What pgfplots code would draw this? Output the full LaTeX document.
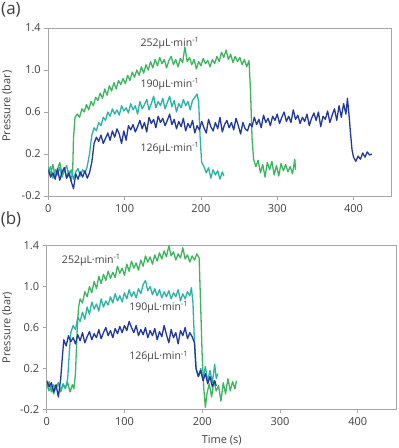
\documentclass[border=0pt]{standalone}
\usepackage{fontspec}
\setmainfont{Open Sans}
\usepackage{pgfplots}
\pgfplotsset{compat=1.18}
\definecolor{cb}{HTML}{22399A}
\definecolor{ct}{HTML}{2DB3A4}
\definecolor{cg}{HTML}{3DB560}
\definecolor{txt}{HTML}{404040}
\definecolor{axc}{HTML}{A6A6A6}
\tikzset{lab/.style={font=\fontsize{10.5}{12}\selectfont, text=txt, inner sep=0pt}}
\pgfplotsset{
  myax/.style={
    scale only axis,
    xmin=0, xmax=450, ymin=-0.2, ymax=1.4,
    xtick={0,100,200,300,400},
    ytick={-0.2,0.2,0.6,1.0,1.4},
    yticklabel style={/pgf/number format/.cd, fixed, fixed zerofill, precision=1},
    /pgf/number format/assume math mode=true,
    tick align=outside, tick pos=left,
    axis line style={axc, line width=0.8pt},
    major tick style={axc, line width=0.8pt},
    major tick length=4pt,
    tick label style={font=\fontsize{11}{13}\selectfont, text=txt},
    every axis plot/.append style={line width=1.3pt, line join=round, mark=none},
    ylabel={Pressure (bar)},
    xticklabel style={yshift=-1pt},
  },
}
\begin{document}
\begin{tikzpicture}
\path[use as bounding box] (0,0) rectangle (399pt,-448pt);
\node[font=\fontsize{17}{20}\selectfont, text=txt] at (11pt,-10pt) {(a)};
\node[font=\fontsize{17}{20}\selectfont, text=txt] at (11pt,-219pt) {(b)};
\begin{axis}[myax, at={(48.3pt,-196pt)}, anchor=south west, width=343.4pt, height=168pt,
  every axis y label/.style={at={(axis description cs:-0.12,0.535)}, rotate=90, anchor=center, font=\fontsize{11}{13}\selectfont, text=txt}]
\addplot[cg] coordinates {
(0,0.08)(3,0.00)(6,0.10)(9,-0.02)(12,0.05)(15,0.12)(18,0.01)(21,0.07)(24,-0.03)(27,0.04)(30,-0.06)(32,0.05)(33,0.35)(35,0.55)(38,0.58)(41,0.55)(44,0.63)(47,0.60)(50,0.67)(53,0.62)(56,0.70)(59,0.66)(62,0.74)(65,0.71)(68,0.78)(71,0.73)(74,0.82)(77,0.76)(80,0.85)(83,0.80)(86,0.88)(89,0.82)(92,0.90)(95,0.86)(98,0.92)(101,0.87)(104,0.95)(107,0.90)(110,0.98)(113,0.93)(116,1.00)(119,0.95)(122,1.03)(125,0.97)(128,1.05)(131,1.00)(134,1.08)(137,1.02)(140,1.10)(143,1.04)(146,1.12)(149,1.06)(152,1.10)(155,1.02)(158,1.09)(161,1.13)(164,1.05)(167,1.10)(170,1.03)(173,1.11)(176,1.07)(179,1.22)(182,1.08)(185,1.12)(188,1.05)(191,1.10)(194,1.01)(197,1.08)(200,1.04)(203,1.11)(206,1.06)(209,1.09)(212,1.03)(215,1.10)(218,1.06)(221,1.13)(224,1.08)(227,1.17)(230,1.12)(233,1.19)(236,1.10)(239,1.15)(242,1.07)(245,1.13)(248,1.08)(251,1.12)(254,1.05)(257,1.10)(260,1.03)(263,1.09)(265,0.80)(267,0.35)(269,0.15)(272,0.08)(275,0.14)(278,0.02)(281,0.10)(284,-0.02)(287,0.12)(290,0.05)(293,0.13)(296,0.00)(299,0.09)(302,-0.01)(305,0.11)(308,0.04)(311,0.10)(314,0.03)(317,0.08)(320,0.01)(323,0.15)(324,0.05)
};
\addplot[ct] coordinates {
(0,0.02)(3,0.08)(6,-0.03)(9,0.05)(12,0.00)(15,0.07)(18,-0.02)(21,0.04)(24,0.09)(27,-0.01)(30,0.05)(33,-0.04)(36,0.03)(39,0.06)(42,-0.01)(45,0.05)(48,0.02)(51,0.08)(54,0.20)(57,0.38)(60,0.45)(63,0.42)(66,0.50)(69,0.47)(72,0.55)(75,0.52)(78,0.60)(81,0.56)(84,0.63)(87,0.58)(90,0.62)(93,0.57)(96,0.66)(99,0.61)(102,0.64)(105,0.59)(108,0.68)(111,0.62)(114,0.66)(117,0.58)(120,0.70)(123,0.63)(126,0.67)(129,0.72)(132,0.62)(135,0.68)(138,0.75)(141,0.64)(144,0.70)(147,0.66)(150,0.73)(153,0.63)(156,0.69)(159,0.75)(162,0.65)(165,0.71)(168,0.60)(171,0.68)(174,0.64)(177,0.72)(180,0.66)(183,0.70)(186,0.62)(189,0.71)(192,0.74)(195,0.77)(197,0.70)(199,0.35)(201,0.12)(204,0.08)(207,0.02)(210,0.07)(213,-0.03)(216,0.05)(219,0.00)(222,0.04)(225,-0.04)(228,0.03)(230,-0.01)
};
\addplot[cb] coordinates {
(0,0.05)(3,-0.02)(6,0.02)(9,-0.04)(12,0.06)(15,-0.05)(18,0.03)(21,0.07)(24,-0.03)(27,0.02)(30,-0.06)(33,-0.13)(36,0.01)(39,-0.04)(42,0.03)(45,-0.02)(48,0.04)(51,-0.03)(54,0.02)(57,0.12)(60,0.30)(63,0.36)(66,0.32)(69,0.38)(72,0.30)(75,0.35)(78,0.40)(81,0.33)(84,0.42)(87,0.36)(90,0.44)(93,0.39)(96,0.30)(99,0.42)(102,0.33)(105,0.47)(108,0.43)(111,0.48)(114,0.41)(117,0.46)(120,0.52)(123,0.44)(126,0.50)(129,0.41)(132,0.55)(135,0.49)(138,0.53)(141,0.45)(144,0.56)(147,0.50)(150,0.54)(153,0.47)(156,0.52)(159,0.58)(162,0.48)(165,0.53)(168,0.44)(171,0.51)(174,0.46)(177,0.54)(180,0.42)(183,0.49)(186,0.45)(189,0.52)(192,0.40)(195,0.47)(198,0.43)(201,0.51)(204,0.45)(207,0.40)(210,0.53)(213,0.46)(216,0.42)(219,0.50)(222,0.44)(225,0.55)(228,0.41)(231,0.48)(234,0.52)(237,0.45)(240,0.50)(243,0.43)(246,0.54)(249,0.47)(252,0.39)(255,0.50)(258,0.44)(261,0.42)(264,0.49)(267,0.46)(270,0.55)(273,0.48)(276,0.53)(279,0.45)(282,0.57)(285,0.50)(288,0.54)(291,0.47)(294,0.56)(297,0.52)(300,0.58)(303,0.49)(306,0.55)(309,0.60)(312,0.51)(315,0.56)(318,0.50)(321,0.62)(324,0.53)(327,0.57)(330,0.49)(333,0.55)(336,0.51)(339,0.58)(342,0.47)(345,0.54)(348,0.59)(351,0.52)(354,0.60)(357,0.46)(360,0.56)(363,0.53)(366,0.61)(369,0.50)(372,0.57)(375,0.63)(378,0.52)(381,0.66)(384,0.55)(387,0.68)(390,0.58)(392,0.73)(394,0.58)(396,0.40)(398,0.24)(400,0.17)(403,0.13)(406,0.18)(409,0.15)(412,0.21)(415,0.17)(418,0.22)(421,0.19)(424,0.20)
};
\node[lab] at (axis cs:159.5,1.257) {252µL·min\textsuperscript{-1}};
\node[lab] at (axis cs:159.5,0.87) {190µL·min\textsuperscript{-1}};
\node[lab] at (axis cs:159.5,0.254) {126µL·min\textsuperscript{-1}};
\end{axis}
\begin{axis}[myax, at={(46.7pt,-409.3pt)}, anchor=south west, width=350pt, height=163.6pt,
  every axis y label/.style={at={(axis description cs:-0.113,0.5)}, rotate=90, anchor=center, font=\fontsize{11}{13}\selectfont, text=txt},
  xlabel={Time (s)}, every axis x label/.style={at={(axis description cs:0.5,-0.188)}, anchor=center, font=\fontsize{11}{13}\selectfont, text=txt}]
\addplot[cg] coordinates {
(0,0.02)(3,0.07)(6,-0.03)(9,0.04)(12,0.00)(15,0.06)(18,-0.02)(21,0.05)(24,0.01)(27,0.06)(30,-0.03)(33,0.04)(35,0.00)(37,0.15)(39,0.55)(41,0.80)(43,0.88)(46,0.84)(49,0.95)(52,0.90)(55,1.00)(58,0.94)(61,1.05)(64,0.98)(67,1.10)(70,1.03)(73,1.12)(76,1.06)(79,1.15)(82,1.08)(85,1.14)(88,1.09)(91,1.20)(94,1.13)(97,1.18)(100,1.11)(103,1.22)(106,1.15)(109,1.25)(112,1.18)(115,1.23)(118,1.16)(121,1.26)(124,1.20)(127,1.30)(130,1.24)(133,1.29)(136,1.22)(139,1.31)(142,1.25)(145,1.33)(148,1.27)(151,1.35)(154,1.29)(157,1.40)(160,1.30)(163,1.34)(166,1.26)(169,1.32)(172,1.28)(175,1.38)(178,1.27)(181,1.31)(184,1.24)(187,1.30)(190,1.26)(193,1.32)(196,1.28)(198,0.80)(200,0.30)(202,0.00)(204,-0.18)(206,-0.05)(209,0.05)(212,-0.08)(215,0.08)(218,-0.02)(221,0.03)(224,-0.12)(227,0.06)(230,-0.05)(233,0.10)(236,-0.02)(239,0.07)(242,0.00)(244,0.08)
};
\addplot[ct] coordinates {
(0,0.05)(3,-0.02)(6,0.03)(9,-0.05)(12,0.02)(15,0.06)(18,-0.03)(21,0.04)(24,0.00)(27,0.10)(29,0.35)(31,0.55)(34,0.62)(37,0.58)(40,0.70)(43,0.66)(46,0.75)(49,0.68)(52,0.80)(55,0.73)(58,0.85)(61,0.78)(64,0.83)(67,0.76)(70,0.88)(73,0.80)(76,0.86)(79,0.82)(82,0.90)(85,0.84)(88,0.93)(91,0.86)(94,0.91)(97,0.85)(100,0.94)(103,0.88)(106,0.97)(109,0.90)(112,0.95)(115,0.89)(118,0.98)(121,0.93)(124,1.02)(127,1.06)(130,0.96)(133,1.00)(136,0.92)(139,0.98)(142,0.91)(145,0.97)(148,0.89)(151,0.95)(154,0.90)(157,0.96)(160,0.88)(163,0.94)(166,0.90)(169,0.97)(172,0.86)(175,0.93)(178,0.88)(181,0.95)(184,0.91)(186,0.99)(188,0.85)(190,0.45)(192,0.20)(195,0.12)(198,0.20)(201,0.10)(204,0.22)(207,0.08)(210,0.18)(213,0.06)(216,0.24)(218,0.10)(220,0.15)
};
\addplot[cb] coordinates {
(0,0.08)(3,0.02)(6,0.06)(9,-0.03)(12,0.04)(15,-0.08)(18,0.10)(20,0.30)(22,0.48)(25,0.42)(28,0.52)(31,0.46)(34,0.50)(37,0.44)(40,0.53)(43,0.47)(46,0.55)(49,0.45)(52,0.51)(55,0.56)(58,0.48)(61,0.54)(64,0.50)(67,0.58)(70,0.49)(73,0.55)(76,0.60)(79,0.52)(82,0.57)(85,0.50)(88,0.59)(91,0.54)(94,0.61)(97,0.55)(100,0.62)(103,0.57)(106,0.66)(109,0.60)(112,0.55)(115,0.62)(118,0.52)(121,0.58)(124,0.53)(127,0.60)(130,0.50)(133,0.57)(136,0.52)(139,0.59)(142,0.48)(145,0.56)(148,0.51)(151,0.62)(154,0.53)(157,0.45)(160,0.58)(163,0.50)(166,0.55)(169,0.44)(172,0.57)(175,0.52)(178,0.60)(181,0.49)(184,0.55)(187,0.51)(190,0.45)(192,0.20)(195,0.12)(198,0.18)(201,0.08)(204,0.15)(207,0.05)(210,0.12)(213,0.02)(216,0.08)(218,0.03)
};
\node[lab] at (axis cs:57.4,1.26) {252µL·min\textsuperscript{-1}};
\node[lab] at (axis cs:144,0.80) {190µL·min\textsuperscript{-1}};
\node[lab] at (axis cs:144,0.315) {126µL·min\textsuperscript{-1}};
\end{axis}
\end{tikzpicture}
\end{document}
